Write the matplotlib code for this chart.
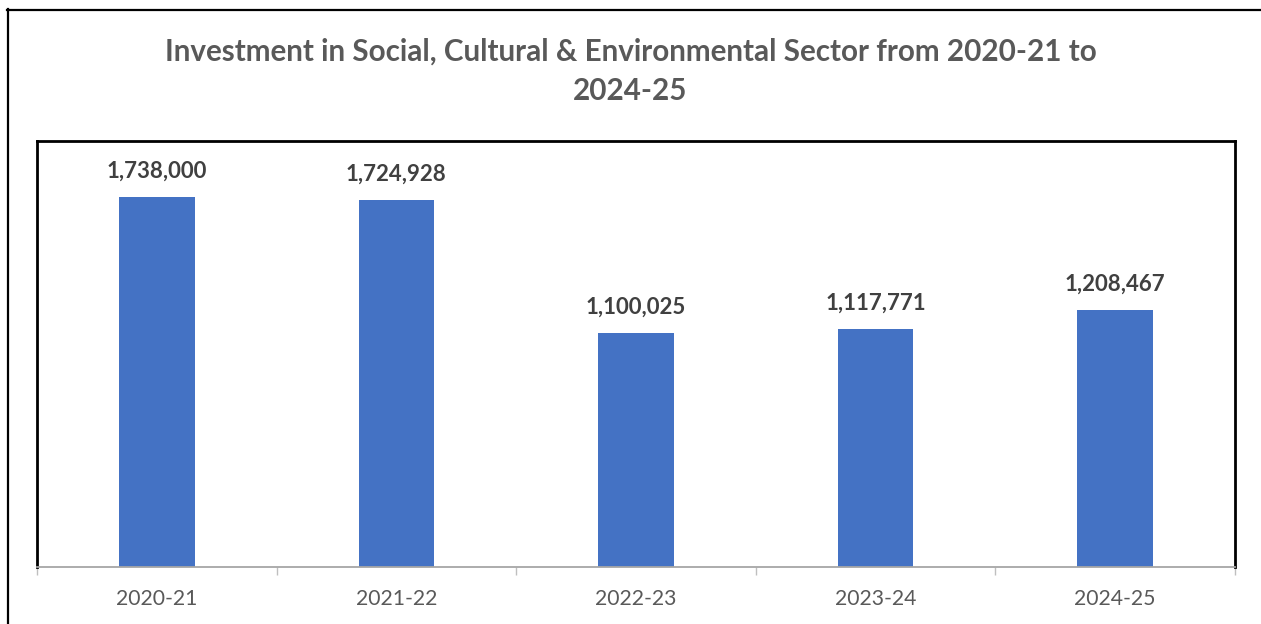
import matplotlib
matplotlib.use("Agg")
import matplotlib.pyplot as plt
from matplotlib.lines import Line2D

years = ["2020-21", "2021-22", "2022-23", "2023-24", "2024-25"]
investment = [1738000, 1724928, 1100025, 1117771, 1208467]

plt.rcParams['font.family'] = ['Lato', 'DejaVu Sans']

W, H = 1261, 624
fig = plt.figure(figsize=(W / 100, H / 100), dpi=100)
fig.patch.set_facecolor("white")

# outer frame (only left and top visible)
fig.add_artist(Line2D([8 / W, 8 / W], [0, 1 - 9 / H], color="black", lw=1.6, transform=fig.transFigure))
fig.add_artist(Line2D([7 / W, 1], [1 - 10 / H, 1 - 10 / H], color="black", lw=1.6, transform=fig.transFigure))

ax = fig.add_axes([37 / W, 57 / H, 1198 / W, 426 / H])
x = list(range(len(years)))
ax.bar(x, investment, width=0.315, color="#4472C4", zorder=2)
ax.set_xlim(-0.5, len(years) - 0.5)
ax.set_ylim(0, 2000000)
ax.set_yticks([])

for xi, v in zip(x, investment):
    ax.annotate(f"{v:,}", (xi, v), xytext=(0, 11), textcoords="offset points",
                ha="center", va="bottom", fontsize=16, fontweight="bold", color="#404040")

ax.set_xticks(x)
ax.set_xticklabels(years, fontsize=15.2, color="#595959")
ax.tick_params(axis="x", which="major", length=0, pad=16)
ax.set_xticks([i - 0.5 for i in range(len(years) + 1)], minor=True)
ax.tick_params(axis="x", which="minor", length=6, color="#BFBFBF", width=1)

for s in ["top", "left", "right"]:
    ax.spines[s].set_color("black")
    ax.spines[s].set_linewidth(2)
ax.spines["bottom"].set_color("#A6A6A6")
ax.spines["bottom"].set_linewidth(1.3)

fig.text(0.5, 1 - 52 / H, "Investment in Social, Cultural & Environmental Sector from 2020-21 to",
         ha="center", va="center", fontsize=21.3, fontweight="bold", color="#595959")
fig.text(0.5, 1 - 91 / H, "2024-25",
         ha="center", va="center", fontsize=21.3, fontweight="bold", color="#595959")

fig.savefig("out.png", dpi=100, facecolor="white")
